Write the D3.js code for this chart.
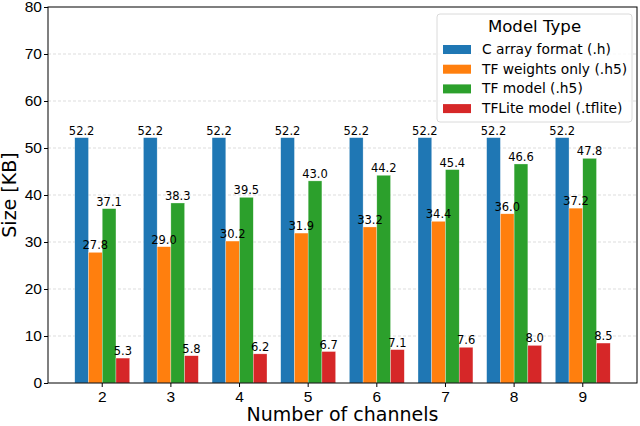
<!DOCTYPE html>
<html>
<head>
<meta charset="utf-8">
<script src="https://cdn.jsdelivr.net/npm/d3@7"></script>
<style>
  body { margin: 0; background: #fff; }
  svg { font-family: "DejaVu Sans", sans-serif; }
  .grid line { stroke: #b0b0b0; stroke-dasharray: 3,2; stroke-width: 0.6; opacity: 0.7; }
  .axis text { font-size: 15.5px; fill: #000; }
  .axis line, .axis .domain { stroke: #000; }
  .value { font-size: 11.5px; text-anchor: middle; fill: #000; }
</style>
</head>
<body>
<svg id="chart" width="640" height="426"></svg>
<script>
// data
const channels = ["2", "3", "4", "5", "6", "7", "8", "9"];
const seriesNames = ["C array format (.h)", "TF weights only (.h5)", "TF model (.h5)", "TFLite model (.tflite)"];
const cArray = [52.2, 52.2, 52.2, 52.2, 52.2, 52.2, 52.2, 52.2];
const tfWeights = [27.8, 29.0, 30.2, 31.9, 33.2, 34.4, 36.0, 37.2];
const tfModel = [37.1, 38.3, 39.5, 43.0, 44.2, 45.4, 46.6, 47.8];
const tflite = [5.3, 5.8, 6.2, 6.7, 7.1, 7.6, 8.0, 8.5];
const yTicks = [0, 10, 20, 30, 40, 50, 60, 70, 80];
const colors = ["#1f77b4", "#ff7f0e", "#2ca02c", "#d62728"];

const series = [cArray, tfWeights, tfModel, tflite];

const margin = {top: 7, right: 3, bottom: 43, left: 48};
const width = 640 - margin.left - margin.right;
const height = 426 - margin.top - margin.bottom;

const svg = d3.select("#chart");
const chart = svg.append("g").attr("transform", "translate(" + margin.left + "," + margin.top + ")");

const x = d3.scaleBand().domain(channels).range([0, width]).paddingInner(0.2).paddingOuter(0.39);
const xInner = d3.scaleBand().domain(d3.range(series.length)).range([0, x.bandwidth()]);
const y = d3.scaleLinear().domain([0, 80]).range([height, 0]);

// grid
chart.append("g").attr("class", "grid")
  .selectAll("line").data(yTicks.slice(1, -1)).enter()
  .append("line")
    .attr("x1", 0).attr("x2", width)
    .attr("y1", d => y(d)).attr("y2", d => y(d));

// bars first, labels on top
const bars = chart.append("g");
const labels = chart.append("g");
series.forEach((vals, si) => {
  bars.append("g").selectAll("rect").data(vals).enter()
    .append("rect")
      .attr("x", (d, i) => x(channels[i]) + xInner(si))
      .attr("y", d => y(d))
      .attr("width", xInner.bandwidth())
      .attr("height", d => height - y(d))
      .attr("fill", colors[si])
      .attr("stroke", "#ffffff")
      .attr("stroke-opacity", 0.6)
      .attr("stroke-width", 0.5);
  labels.append("g").selectAll("text").data(vals).enter()
    .append("text")
      .attr("class", "value")
      .attr("x", (d, i) => x(channels[i]) + xInner(si) + xInner.bandwidth() / 2)
      .attr("y", d => y(d) - 3)
      .text(d => d.toFixed(1));
});

// axes
chart.append("g").attr("class", "axis")
  .attr("transform", "translate(0," + height + ")")
  .call(d3.axisBottom(x).tickSize(4).tickPadding(4))
  .call(g => g.select(".domain").remove());
chart.append("g").attr("class", "axis")
  .call(d3.axisLeft(y).tickValues(yTicks).tickSize(4).tickPadding(2))
  .call(g => g.select(".domain").remove());

// frame
chart.append("rect")
  .attr("width", width).attr("height", height)
  .attr("fill", "none").attr("stroke", "#000").attr("stroke-width", 1);

// axis titles
chart.append("text")
  .attr("x", width / 2).attr("y", height + 38)
  .attr("text-anchor", "middle").style("font-size", "19px")
  .text("Number of channels");
chart.append("text")
  .attr("transform", "translate(" + (-margin.left + 16) + "," + (height / 2) + ") rotate(-90)")
  .attr("text-anchor", "middle").style("font-size", "19px")
  .text("Size [KB]");

// legend
const legend = chart.append("g").attr("transform", "translate(" + (437 - margin.left) + "," + (14 - margin.top) + ")");
legend.append("rect")
  .attr("width", 195).attr("height", 108).attr("rx", 3)
  .attr("fill", "#fff").attr("fill-opacity", 0.8)
  .attr("stroke", "#d0d0d0").attr("stroke-width", 0.8);
legend.append("text")
  .attr("x", 97.5).attr("y", 18)
  .attr("text-anchor", "middle").style("font-size", "16.6px")
  .text("Model Type");
const items = legend.selectAll("g.item").data(seriesNames).enter()
  .append("g").attr("class", "item")
  .attr("transform", (d, i) => "translate(6," + (35 + i * 19.7) + ")");
items.append("rect")
  .attr("y", -4).attr("width", 28).attr("height", 9)
  .attr("fill", (d, i) => colors[i]);
items.append("text")
  .attr("x", 39).attr("y", 5)
  .style("font-size", "13.8px")
  .text(d => d);
</script>
</body>
</html>
